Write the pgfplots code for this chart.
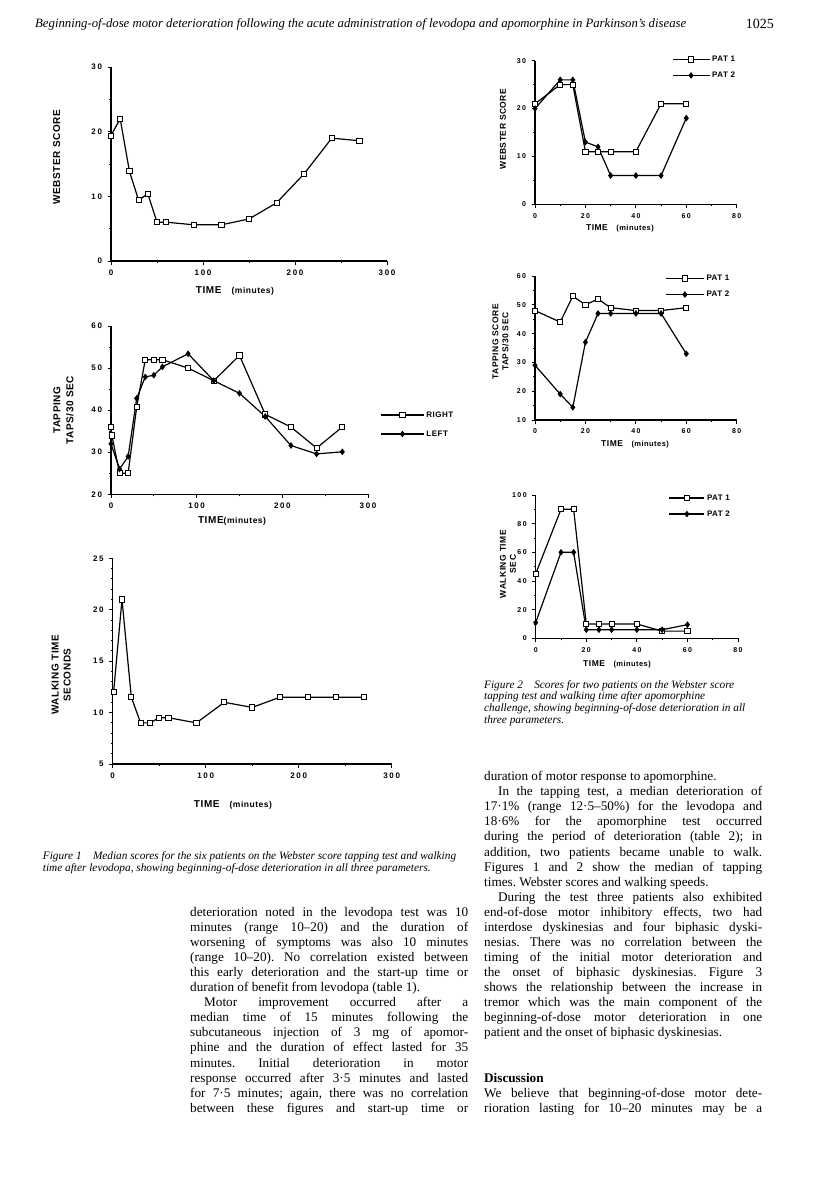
\documentclass[border=0pt]{standalone}
\usepackage{fontspec}
\setmainfont{Liberation Serif}
\newfontfamily\chartfont[LetterSpace=20]{Liberation Sans}
\newfontfamily\labfont[LetterSpace=6]{Liberation Sans}
\usepackage{pgfplots}
\pgfplotsset{compat=1.18}
\frenchspacing

% page is laid out in px of the scan, 1px = 1pt
\newcommand{\bodyfont}{\fontsize{13.2}{15}\selectfont}
\newcommand{\capfont}{\itshape\fontsize{11.3}{11.3}\selectfont}
% justified body line: x, line index, text
\newcommand{\jl}[3]{\node[anchor=base west,inner sep=0pt,font=\bodyfont] at (#1pt,{-(780.7+15.07*#2)*1pt}) {\makebox[278pt][s]{#3}};}
\newcommand{\el}[3]{\node[anchor=base west,inner sep=0pt,font=\bodyfont] at (#1pt,{-(780.7+15.07*#2)*1pt}) {\makebox[278pt][l]{#3}};}

\pgfplotsset{
  scanax/.style={
    scale only axis, clip=false,
    axis x line*=bottom, axis y line*=left,
    axis line style={line width=1.2pt,-},
    tick align=outside, major tick length=3.5pt, minor tick length=2pt,
    every tick/.style={line width=0.9pt,black},
    minor x tick num=1, minor y tick num=1,
    /pgf/number format/assume math mode=true,
    tick label style={font=\chartfont\bfseries\fontsize{8}{8}\selectfont},
    yticklabel style={xshift=-2pt}, xticklabel style={yshift=-2pt},
    label style={font=\labfont\bfseries\fontsize{10}{12}\selectfont, align=center},
    every axis plot/.append style={line width=1.2pt,black},
    legend style={draw=none,fill=none,inner sep=0pt,
      font=\labfont\bfseries\fontsize{8}{9}\selectfont,
      /tikz/every even column/.append style={column sep=2pt}},
    legend cell align=left,
  },
  limg/.style={legend image code/.code={\draw[mark repeat=2,mark phase=2,##1] plot coordinates {(0pt,0pt) (#1/2,0pt) (#1,0pt)};}},
  sq/.style={mark=square*, mark size=2.6pt, mark options={fill=white,line width=0.9pt,solid}},
  dm/.style={mark=diamond*, mark size=2.4pt, mark options={fill=black,solid}},
}

\begin{document}
\begin{tikzpicture}
\path[use as bounding box] (0pt,0pt) rectangle (816pt,-1203pt);

% running head
\node[anchor=base west,inner sep=0pt,font=\itshape\fontsize{12.75}{12.75}\selectfont] at (35pt,-27pt)
  {Beginning-of-dose motor deterioration following the acute administration of levodopa and apomorphine in Parkinson's disease};
\node[anchor=base east,inner sep=0pt,font=\fontsize{14}{14}\selectfont] at (774pt,-28pt) {1025};

% ---- Figure 1: Webster score
\begin{axis}[scanax, at={(111pt,-261pt)}, anchor=south west, width=276pt, height=194pt,
  xmin=0, xmax=300, ymin=0, ymax=30, xtick={0,100,200,300}, ytick={0,10,20,30},
  xlabel={TIME\quad{\fontsize{8.5}{9}\selectfont(minutes)}}, ylabel={WEBSTER SCORE},
  xlabel style={at={(axis description cs:0.449,-0.155)},anchor=center},
  ylabel style={at={(axis description cs:-0.197,0.536)},anchor=center}]
\addplot[sq] coordinates {(0,19.4)(10,22)(20,13.9)(30,9.4)(40,10.4)(50,6.0)(60,6.0)(90,5.6)(120,5.6)(150,6.5)(180,9.0)(210,13.5)(240,19.0)(270,18.6)};
\end{axis}

% ---- Figure 1: tapping
\begin{axis}[scanax, at={(111pt,-494.3pt)}, anchor=south west, width=257pt, height=168.3pt,
  xmin=0, xmax=300, ymin=20, ymax=60, xtick={0,100,200,300}, ytick={20,30,40,50,60},
  xlabel={TIME{\fontsize{8.5}{9}\selectfont(minutes)}}, ylabel={TAPPING\\TAPS/30 SEC},
  label style={font=\labfont\bfseries\fontsize{10}{13}\selectfont},
  xlabel style={at={(axis description cs:0.471,-0.159)},anchor=center},
  ylabel style={at={(axis description cs:-0.185,0.50)},anchor=center},
  limg=43pt,
  legend style={at={(axis description cs:1.047,0.415)},anchor=west,row sep=8pt,
    /tikz/every even column/.append style={column sep=10pt}}]
\addplot[sq] coordinates {(0,36)(1,34)(10,25)(20,25)(30,40.8)(40,52)(50,52)(60,52)(90,50)(120,47)(150,53)(180,39)(210,36)(240,31)(270,36)};
\addlegendentry{RIGHT}
\addplot[dm] coordinates {(0,32)(10,26)(20,29)(30,42.8)(40,47.9)(50,48.3)(60,50.3)(90,53.4)(120,47)(150,44)(180,38.5)(210,31.6)(240,29.6)(270,30.1)};
\addlegendentry{LEFT}
\end{axis}

% ---- Figure 1: walking time
\begin{axis}[scanax, at={(112.7pt,-764pt)}, anchor=south west, width=279pt, height=205.7pt,
  xmin=0, xmax=300, ymin=5, ymax=25, xtick={0,100,200,300}, ytick={5,10,15,20,25},
  minor y tick num=4,
  xlabel={TIME\quad{\fontsize{8.5}{9}\selectfont(minutes)}}, ylabel={WALKING TIME\\SECONDS},
  xlabel style={at={(axis description cs:0.431,-0.199)},anchor=center},
  ylabel style={at={(axis description cs:-0.185,0.433)},anchor=center}]
\addplot[sq] coordinates {(1,12)(10,21)(20,11.5)(30,9)(40,9)(50,9.5)(60,9.5)(90,9)(120,11)(150,10.5)(180,11.5)(210,11.5)(240,11.5)(270,11.5)};
\end{axis}

% ---- Figure 2: Webster score
\begin{axis}[scanax, at={(535pt,-204.3pt)}, anchor=south west, width=201.7pt, height=143.6pt,
  xmin=0, xmax=80, ymin=0, ymax=30, xtick={0,20,40,60,80}, ytick={0,10,20,30},
  tick label style={font=\chartfont\bfseries\fontsize{7}{7}\selectfont},
  label style={font=\labfont\bfseries\fontsize{8.5}{10}\selectfont},
  xlabel={TIME\quad{\fontsize{7.5}{8}\selectfont(minutes)}}, ylabel={WEBSTER SCORE},
  xlabel style={at={(axis description cs:0.421,-0.165)},anchor=center},
  ylabel style={at={(axis description cs:-0.159,0.524)},anchor=center},
  limg=37pt,
  legend style={at={(axis description cs:0.678,0.953)},anchor=west,row sep=5pt,
    /tikz/every even column/.append style={column sep=9pt}}]
\addplot[sq] coordinates {(0,21)(10,25)(15,25)(20,11)(25,11)(30,11)(40,11)(50,21)(60,21)};
\addlegendentry{PAT 1}
\addplot[dm] coordinates {(0,20)(10,26)(15,26)(20,13)(25,12)(30,6)(40,6)(50,6)(60,18)};
\addlegendentry{PAT 2}
\end{axis}

% ---- Figure 2: tapping
\begin{axis}[scanax, at={(535pt,-420pt)}, anchor=south west, width=201.7pt, height=144pt,
  xmin=0, xmax=80, ymin=10, ymax=60, xtick={0,20,40,60,80}, ytick={10,20,30,40,50,60},
  tick label style={font=\chartfont\bfseries\fontsize{7}{7}\selectfont},
  label style={font=\labfont\bfseries\fontsize{8.5}{10}\selectfont},
  xlabel={TIME\quad{\fontsize{7.5}{8}\selectfont(minutes)}}, ylabel={TAPPING SCORE\\TAPS/30 SEC},
  xlabel style={at={(axis description cs:0.496,-0.169)},anchor=center},
  ylabel style={at={(axis description cs:-0.171,0.544)},anchor=center},
  limg=38pt,
  legend style={at={(axis description cs:0.645,0.927)},anchor=west,row sep=5pt,
    /tikz/every even column/.append style={column sep=9pt}}]
\addplot[sq] coordinates {(0,48)(10,44)(15,53)(20,50)(25,52)(30,49)(40,48)(50,48)(60,49)};
\addlegendentry{PAT 1}
\addplot[dm] coordinates {(0,29)(10,19)(15,14.4)(20,37)(25,47)(30,47)(40,47)(50,47)(60,33)};
\addlegendentry{PAT 2}
\end{axis}

% ---- Figure 2: walking time
\begin{axis}[scanax, at={(535.7pt,-638.3pt)}, anchor=south west, width=202.3pt, height=143.3pt,
  xmin=0, xmax=80, ymin=0, ymax=100, xtick={0,20,40,60,80}, ytick={0,20,40,60,80,100},
  tick label style={font=\chartfont\bfseries\fontsize{7}{7}\selectfont},
  label style={font=\labfont\bfseries\fontsize{8.5}{10}\selectfont},
  xlabel={TIME\quad{\fontsize{7.5}{8}\selectfont(minutes)}}, ylabel={WALKING TIME\\SEC},
  xlabel style={at={(axis description cs:0.402,-0.179)},anchor=center},
  ylabel style={at={(axis description cs:-0.137,0.518)},anchor=center},
  limg=35pt,
  legend style={at={(axis description cs:0.657,0.923)},anchor=west,row sep=5pt,
    /tikz/every even column/.append style={column sep=9pt}}]
\addplot[sq] coordinates {(0,45)(10,90)(15,90)(20,10)(25,10)(30,10)(40,10)(50,5)(60,5)};
\addlegendentry{PAT 1}
\addplot[dm] coordinates {(0,11)(10,60)(15,60)(20,6)(25,6)(30,6)(40,6)(50,6)(60,9.5)};
\addlegendentry{PAT 2}
\end{axis}

% ---- captions
\node[anchor=base west,inner sep=0pt,font=\capfont] at (484pt,-688pt) {Figure 2\quad Scores for two patients on the Webster score};
\node[anchor=base west,inner sep=0pt,font=\capfont] at (484pt,-699.8pt) {tapping test and walking time after apomorphine};
\node[anchor=base west,inner sep=0pt,font=\capfont] at (484pt,-711.6pt) {challenge, showing beginning-of-dose deterioration in all};
\node[anchor=base west,inner sep=0pt,font=\capfont] at (484pt,-723.4pt) {three parameters.};

\node[anchor=base west,inner sep=0pt,font=\capfont] at (42.7pt,-859pt) {Figure 1\quad Median scores for the six patients on the Webster score tapping test and walking};
\node[anchor=base west,inner sep=0pt,font=\capfont] at (42.7pt,-871pt) {time after levodopa, showing beginning-of-dose deterioration in all three parameters.};

% ---- body text, left column
\jl{190}{9}{deterioration noted in the levodopa test was 10}
\jl{190}{10}{minutes (range 10–20) and the duration of}
\jl{190}{11}{worsening of symptoms was also 10 minutes}
\jl{190}{12}{(range 10–20). No correlation existed between}
\jl{190}{13}{this early deterioration and the start-up time or}
\el{190}{14}{duration of benefit from levodopa (table 1).}
\jl{190}{15}{\hspace{14pt}Motor improvement occurred after a}
\jl{190}{16}{median time of 15 minutes following the}
\jl{190}{17}{subcutaneous injection of 3 mg of apomor-}
\jl{190}{18}{phine and the duration of effect lasted for 35}
\jl{190}{19}{minutes. Initial deterioration in motor}
\jl{190}{20}{response occurred after 3·5 minutes and lasted}
\jl{190}{21}{for 7·5 minutes; again, there was no correlation}
\jl{190}{22}{between these figures and start-up time or}

% ---- body text, right column
\el{484}{0}{duration of motor response to apomorphine.}
\jl{484}{1}{\hspace{14pt}In the tapping test, a median deterioration of}
\jl{484}{2}{17·1\% (range 12·5–50\%) for the levodopa and}
\jl{484}{3}{18·6\% for the apomorphine test occurred}
\jl{484}{4}{during the period of deterioration (table 2); in}
\jl{484}{5}{addition, two patients became unable to walk.}
\jl{484}{6}{Figures 1 and 2 show the median of tapping}
\el{484}{7}{times. Webster scores and walking speeds.}
\jl{484}{8}{\hspace{14pt}During the test three patients also exhibited}
\jl{484}{9}{end-of-dose motor inhibitory effects, two had}
\jl{484}{10}{interdose dyskinesias and four biphasic dyski-}
\jl{484}{11}{nesias. There was no correlation between the}
\jl{484}{12}{timing of the initial motor deterioration and}
\jl{484}{13}{the onset of biphasic dyskinesias. Figure 3}
\jl{484}{14}{shows the relationship between the increase in}
\jl{484}{15}{tremor which was the main component of the}
\jl{484}{16}{beginning-of-dose motor deterioration in one}
\el{484}{17}{patient and the onset of biphasic dyskinesias.}
\el{484}{20}{\bfseries Discussion}
\jl{484}{21}{We believe that beginning-of-dose motor dete-}
\jl{484}{22}{rioration lasting for 10–20 minutes may be a}
\end{tikzpicture}
\end{document}
